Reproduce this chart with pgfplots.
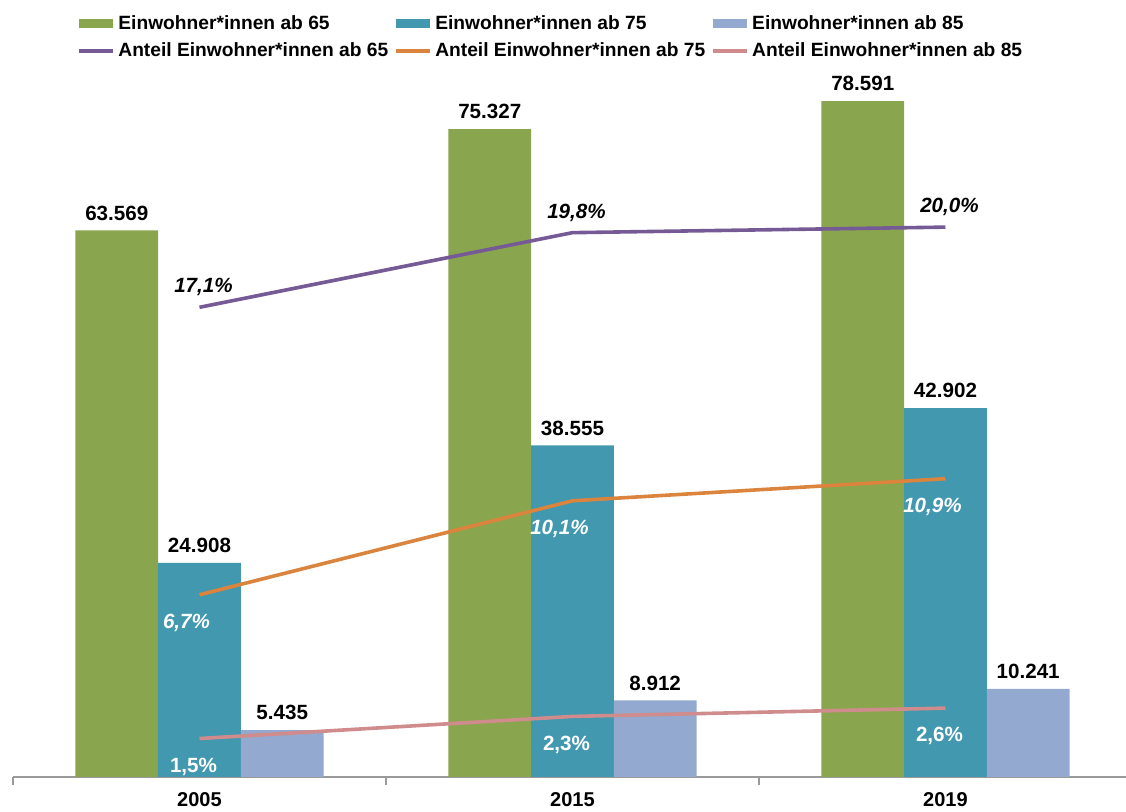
\documentclass[border=0pt]{standalone}
\usepackage{fontspec}
\setmainfont{Liberation Sans}
\usepackage{pgfplots}
\pgfplotsset{compat=1.18}
\definecolor{cGreen}{HTML}{89A54E}
\definecolor{cTeal}{HTML}{4198AF}
\definecolor{cLBlue}{HTML}{93A9CF}
\definecolor{cPurple}{HTML}{765A95}
\definecolor{cOrange}{HTML}{DB843D}
\definecolor{cPink}{HTML}{D08C8C}
\begin{document}
\begin{tikzpicture}[x=1pt,y=1pt]
\path[use as bounding box] (0,0) rectangle (563,406);
\pgfplotsset{
  common/.style={
    anchor=south west,
    scale only axis, width=556.5pt, height=387pt,
    xmin=-0.5, xmax=2.484, ymin=0,
  },
  barleg/.style={legend image code/.code={\path[draw=none, fill] (0pt,-2.2pt) rectangle (17pt,2.2pt);}},
  lineleg/.style={legend image code/.code={\draw[line width=2pt] (0pt,0pt) -- (17pt,0pt);}},
}
\begin{axis}[common, at={(6.5pt,17.5pt)}, ymax=90000,
  axis x line=bottom, axis y line=none,
  x axis line style={-, draw=gray!80, line width=0.8pt},
  xtick={0,1,2}, xticklabels={2005,2015,2019},
  major x tick style={draw=none},
  minor xtick={-0.5,0.5,1.5}, minor tick length=4pt,
  minor x tick style={draw=gray!80, line width=0.8pt},
  xtick align=outside,
  xticklabel style={font=\bfseries\fontsize{10}{12}\selectfont},
  ybar=0pt, bar width=41.35pt,
  point meta=explicit symbolic,
  nodes near coords,
  nodes near coords style={font=\bfseries\fontsize{10.3}{12}\selectfont, black, yshift=1.5pt},
]
\addplot[fill=cGreen, draw=none] coordinates {(0,63569) [63.569] (1,75327) [75.327] (2,78591) [78.591]};
\addplot[fill=cTeal, draw=none] coordinates {(0,24908) [24.908] (1,38555) [38.555] (2,42902) [42.902]};
\addplot[fill=cLBlue, draw=none] coordinates {(0,5435) [5.435] (1,8912) [8.912] (2,10241) [10.241]};
\end{axis}
\begin{axis}[common, at={(6.5pt,16pt)}, ymax=28, hide axis,
  point meta=explicit symbolic,
  legend columns=3,
  legend style={at={(axis description cs:0.0575,0.990)}, anchor=north west,
    draw=none, fill=none, inner sep=0pt,
    font=\bfseries\fontsize{9.6}{11}\selectfont,
    nodes={inner xsep=1.5pt, inner ysep=0pt, text height=7.5pt, text depth=2pt},
    row sep=4pt,
    /tikz/every even column/.append style={column sep=1.5pt}},
  legend cell align=left,
]
\addlegendimage{barleg, fill=cGreen, draw=none}
\addlegendentry{Einwohner*innen ab 65}
\addlegendimage{barleg, fill=cTeal, draw=none}
\addlegendentry{Einwohner*innen ab 75}
\addlegendimage{barleg, fill=cLBlue, draw=none}
\addlegendentry{Einwohner*innen ab 85}
\addplot[lineleg, cPurple, line width=1.8pt, mark=none,
  nodes near coords, nodes near coords style={font=\bfseries\itshape\fontsize{10.3}{12}\selectfont, black, anchor=south, yshift=1.5pt, xshift=2pt}]
  coordinates {(0,17.1) [17,1\%] (1,19.8) [19,8\%] (2,20.0) [20,0\%]};
\addlegendentry{Anteil Einwohner*innen ab 65}
\addplot[lineleg, cOrange, line width=1.8pt, mark=none,
  nodes near coords, nodes near coords style={font=\bfseries\itshape\fontsize{10.3}{12}\selectfont, white, anchor=north, yshift=-5.5pt, xshift=-6.5pt}]
  coordinates {(0,6.7) [6,7\%] (1,10.1) [10,1\%] (2,10.9) [10,9\%]};
\addlegendentry{Anteil Einwohner*innen ab 75}
\addplot[lineleg, cPink, line width=1.8pt, mark=none,
  nodes near coords, nodes near coords style={font=\bfseries\fontsize{10.3}{12}\selectfont, white, anchor=north, yshift=-5.5pt, xshift=-3pt}]
  coordinates {(0,1.5) [1,5\%] (1,2.3) [2,3\%] (2,2.6) [2,6\%]};
\addlegendentry{Anteil Einwohner*innen ab 85}
\end{axis}
\end{tikzpicture}
\end{document}
